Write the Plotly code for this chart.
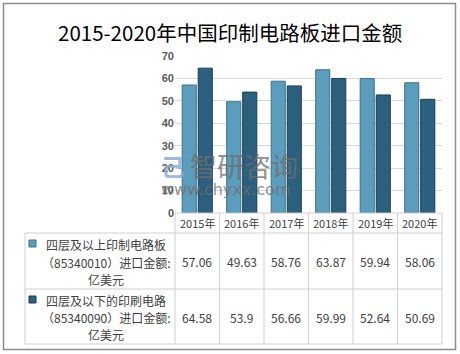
import plotly.graph_objects as go

# ---------------- data ----------------
years = ["2015年", "2016年", "2017年", "2018年", "2019年", "2020年"]
series1_name = ["四层及以上印制电路板", "（85340010）进口金额:", "亿美元"]
series2_name = ["四层及以下的印刷电路", "（85340090）进口金额:", "亿美元"]
series1 = [57.06, 49.63, 58.76, 63.87, 59.94, 58.06]
series2 = [64.58, 53.9, 56.66, 59.99, 52.64, 50.69]
series1_text = ["57.06", "49.63", "58.76", "63.87", "59.94", "58.06"]
series2_text = ["64.58", "53.9", "56.66", "59.99", "52.64", "50.69"]
title = "2015-2020年中国印制电路板进口金额"
y_ticks = [0, 10, 20, 30, 40, 50, 60, 70]

# ---------------- layout geometry ----------------
W, H = 460, 354
L, R, T, B = 175, 18, 56, 141
PW = W - L - R
PH = H - T - B


def px(x):
    return (x - L) / PW


def py(y):
    return (H - B - y) / PH


C1, C1L = "#5b9dbc", "#3f7189"
C2, C2L = "#2c607f", "#173e55"
GRID = "#d9d9d9"
TXT = "#404040"
FONT = "Noto Sans CJK SC"

fig = go.Figure()
fig.add_trace(go.Bar(x=years, y=series1, name="".join(series1_name),
                     marker=dict(color=C1, line=dict(color=C1L, width=1))))
fig.add_trace(go.Bar(x=years, y=series2, name="".join(series2_name),
                     marker=dict(color=C2, line=dict(color=C2L, width=1))))

shapes = []
line = dict(color="#d0d0d0", width=1)
n = len(years)
# table rows (pixel y)
y_head, y_r1, y_r2, y_end = 213, 233, 289, 344
x_lab = 25
# horizontals
shapes.append(dict(type="line", xref="paper", yref="paper", x0=0, x1=1,
                   y0=py(y_head), y1=py(y_head), line=line))
for yy in (y_r1, y_r2, y_end):
    shapes.append(dict(type="line", xref="paper", yref="paper", x0=px(x_lab), x1=1,
                       y0=py(yy), y1=py(yy), line=line))
# verticals
shapes.append(dict(type="line", xref="paper", yref="paper", x0=px(x_lab), x1=px(x_lab),
                   y0=py(y_r1), y1=py(y_end), line=line))
for k in range(n + 1):
    xx = k / n
    shapes.append(dict(type="line", xref="paper", yref="paper", x0=xx, x1=xx,
                       y0=py(y_head), y1=py(y_end), line=line))
# legend keys
for (y0, col, lc) in ((240, C1, C1L), (296, C2, C2L)):
    shapes.append(dict(type="rect", xref="paper", yref="paper",
                       x0=px(29), x1=px(36), y0=py(y0), y1=py(y0 + 7),
                       fillcolor=col, line=dict(color=lc, width=1)))
# outer border
shapes.append(dict(type="rect", xref="paper", yref="paper",
                   x0=px(3.5), x1=px(455.5), y0=py(349.5), y1=py(3.5),
                   line=dict(color="#8c8c8c", width=1.5)))


def a(x, y, text, size, color=TXT, xref="paper", family=FONT, opacity=1):
    return dict(x=x, xref=xref, y=y, yref="paper", text=text, showarrow=False,
                xanchor="center", yanchor="middle", opacity=opacity,
                font=dict(family=family, size=size, color=color))


ann = []
# header
for yr in years:
    ann.append(a(yr, py(223), yr, 11, xref="x"))
# values
for yr, t1, t2 in zip(years, series1_text, series2_text):
    ann.append(a(yr, py(261.5), t1, 12, xref="x"))
    ann.append(a(yr, py(317), t2, 12, xref="x"))
# row labels
for names, ys in ((series1_name, (244, 262, 279)), (series2_name, (300, 317, 334))):
    for i, (t, yy) in enumerate(zip(names, ys)):
        ann.append(a(px(106), py(yy), t, 12))
# watermark
ann.append(a(px(244), py(165), "智研咨询", 27, color="#6e6e6e", opacity=0.75))
ann.append(a(px(225), py(189), "www.chyxx.com", 16, color="#6e6e6e",
             family="DejaVu Sans", opacity=0.75))
ann.append(a(px(173), py(165), "<b>己</b>", 24, color="#86a9d6", opacity=0.8))
# title
ann.append(a(px(230), py(32), title, 20.5, color="#000000"))

fig.update_layout(
    width=W, height=H,
    margin=dict(l=L, r=R, t=T, b=B),
    paper_bgcolor="white", plot_bgcolor="white",
    showlegend=False,
    barmode="group", bargap=0.28, bargroupgap=0.12,
    shapes=shapes, annotations=ann,
    xaxis=dict(showticklabels=False, showgrid=False, showline=False, ticks="",
               range=[-0.5, n - 0.5]),
    yaxis=dict(range=[0, 70], tickvals=y_ticks, showgrid=True, gridcolor=GRID,
               gridwidth=1, zeroline=False, showline=False, ticks="",
               tickfont=dict(family="Liberation Sans", size=11, color="#595959",
                             weight="bold")),
)
fig.write_html("out.html")
